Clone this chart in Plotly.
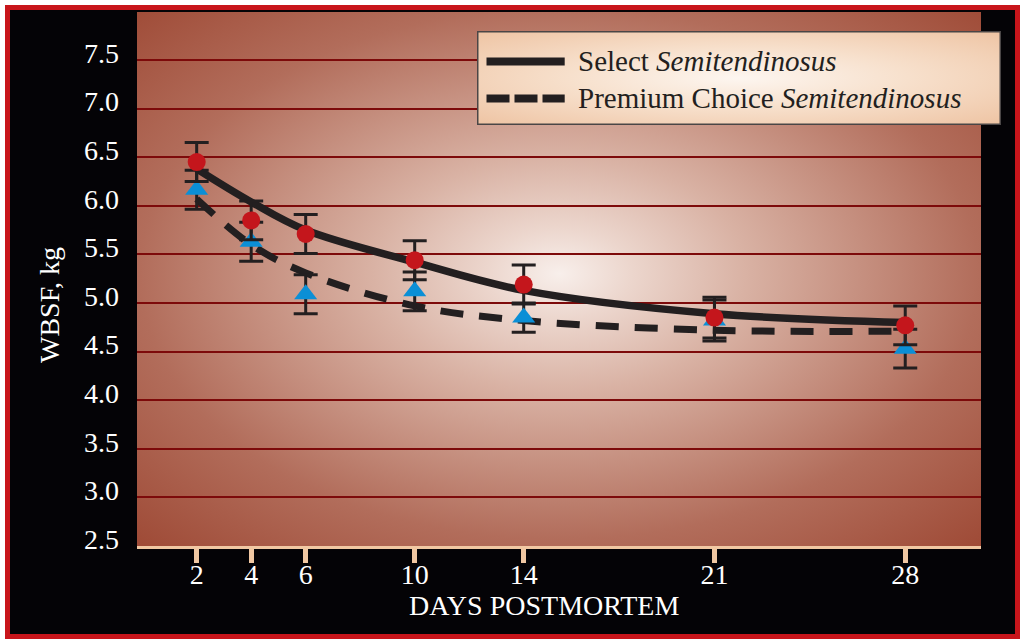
import base64
import plotly.graph_objects as go

# ---------------- data ----------------
days = [2, 4, 6, 10, 14, 21, 28]
tick_labels = ["2", "4", "6", "10", "14", "21", "28"]

select_means = [6.45, 5.85, 5.71, 5.44, 5.19, 4.85, 4.77]
select_err = [0.20, 0.20, 0.20, 0.20, 0.20, 0.21, 0.20]
select_fit = [6.38, 6.04, 5.75, 5.42, 5.13, 4.89, 4.80]

premium_means = [6.165, 5.63, 5.09, 5.12, 4.85, 4.82, 4.53]
premium_err = [0.20, 0.20, 0.20, 0.20, 0.15, 0.21, 0.20]
premium_fit = [6.07, 5.60, 5.31, 4.97, 4.82, 4.72, 4.71]

y_ticks = [2.5, 3.0, 3.5, 4.0, 4.5, 5.0, 5.5, 6.0, 6.5, 7.0, 7.5]
series_names = ["Select <i>Semitendinosus</i>", "Premium Choice <i>Semitendinosus</i>"]

# ---------------- layout geometry ----------------
W, H = 1021, 641
L, R, T, B = 137, 40, 12, 95
PW, PH = W - L - R, H - T - B
FONT = "Liberation Serif"
INK = "#231f20"

def px_x(p):
    return (p - L) / PW

def px_y(p):
    return (H - B - p) / PH

# background (frame + gradient plot area) as svg
bg_svg = f"""<svg xmlns='http://www.w3.org/2000/svg' width='{W}' height='{H}' viewBox='0 0 {W} {H}'>
<defs>
<radialGradient id='g' cx='0.5' cy='0.49' r='0.71'>
<stop offset='0' stop-color='#f8efeb'/>
<stop offset='0.12' stop-color='#ecd6cd'/>
<stop offset='0.31' stop-color='#d9b2a4'/>
<stop offset='0.7' stop-color='#b26d5b'/>
<stop offset='1' stop-color='#9f4b37'/>
</radialGradient>
</defs>
<rect x='0' y='0' width='{W}' height='{H}' fill='#ffffff'/>
<rect x='7.5' y='7.5' width='1010' height='629' fill='#040306' stroke='#c8151b' stroke-width='5'/>
<rect x='{L}' y='{T}' width='{PW}' height='{PH}' fill='url(#g)'/>
</svg>"""

lg_x0, lg_x1, lg_y0, lg_y1 = 477, 1001, 31, 125
lg_svg = f"""<svg xmlns='http://www.w3.org/2000/svg' width='{lg_x1-lg_x0}' height='{lg_y1-lg_y0}' viewBox='0 0 {lg_x1-lg_x0} {lg_y1-lg_y0}'>
<defs>
<radialGradient id='l' cx='0.5' cy='0.5' r='0.72'>
<stop offset='0' stop-color='#fdf6f0'/>
<stop offset='0.45' stop-color='#f7e0cc'/>
<stop offset='1' stop-color='#eec3a2'/>
</radialGradient>
</defs>
<rect x='0.75' y='0.75' width='{lg_x1-lg_x0-1.5}' height='{lg_y1-lg_y0-1.5}' fill='url(#l)' stroke='#4a4646' stroke-width='1.5'/>
</svg>"""

def data_uri(svg):
    return "data:image/svg+xml;base64," + base64.b64encode(svg.encode()).decode()

fig = go.Figure()

# fitted curves
fig.add_trace(go.Scatter(x=days, y=select_fit, mode="lines",
                         line=dict(color=INK, width=7.5, shape="spline", smoothing=1.0),
                         showlegend=False, hoverinfo="skip"))
fig.add_trace(go.Scatter(x=days, y=premium_fit, mode="lines",
                         line=dict(color=INK, width=7, dash="23px,16px", shape="spline", smoothing=1.0),
                         showlegend=False, hoverinfo="skip"))

# means with error bars
fig.add_trace(go.Scatter(x=days, y=premium_means, mode="markers",
                         marker=dict(symbol="triangle-up", size=20, color="#0b8fd6"),
                         error_y=dict(type="data", array=premium_err, color=INK, thickness=3, width=12),
                         showlegend=False))
fig.add_trace(go.Scatter(x=days, y=select_means, mode="markers",
                         marker=dict(symbol="circle", size=18, color="#c4161c"),
                         error_y=dict(type="data", array=select_err, color=INK, thickness=3, width=12),
                         showlegend=False))

images = [
    dict(source=data_uri(bg_svg), xref="paper", yref="paper",
         x=-L / PW, y=1 + T / PH, sizex=W / PW, sizey=H / PH,
         sizing="stretch", xanchor="left", yanchor="top", layer="below"),
    dict(source=data_uri(lg_svg), xref="paper", yref="paper",
         x=px_x(lg_x0), y=px_y(lg_y0), sizex=(lg_x1 - lg_x0) / PW, sizey=(lg_y1 - lg_y0) / PH,
         sizing="stretch", xanchor="left", yanchor="top", layer="above"),
]

shapes = [
    dict(type="line", xref="paper", yref="paper", x0=px_x(486.5), x1=px_x(564.7),
         y0=px_y(61.5), y1=px_y(61.5), line=dict(color=INK, width=8), layer="above"),
    dict(type="line", xref="paper", yref="paper", x0=px_x(486.5), x1=px_x(564.7),
         y0=px_y(98.5), y1=px_y(98.5), line=dict(color=INK, width=8, dash="23px,5px"), layer="above"),
]

annotations = [
    dict(text=series_names[0], xref="paper", yref="paper", x=px_x(576), y=px_y(61),
         xanchor="left", yanchor="middle", showarrow=False,
         font=dict(family=FONT, size=29, color=INK)),
    dict(text=series_names[1], xref="paper", yref="paper", x=px_x(576), y=px_y(98),
         xanchor="left", yanchor="middle", showarrow=False,
         font=dict(family=FONT, size=29, color=INK)),
    dict(text="WBSF, kg", xref="paper", yref="paper", x=px_x(49), y=px_y(305),
         xanchor="center", yanchor="middle", textangle=-90, showarrow=False,
         font=dict(family=FONT, size=28, color="white")),
    dict(text="DAYS POSTMORTEM", xref="paper", yref="paper", x=px_x(544), y=px_y(605),
         xanchor="center", yanchor="middle", showarrow=False,
         font=dict(family=FONT, size=28, color="white")),
]

fig.update_layout(
    width=W, height=H,
    margin=dict(l=L, r=R, t=T, b=B, pad=0),
    paper_bgcolor="white",
    plot_bgcolor="rgba(0,0,0,0)",
    images=images, shapes=shapes, annotations=annotations,
    showlegend=False,
    xaxis=dict(range=[-0.19, 30.78], tickvals=days, ticktext=tick_labels,
               ticks="outside", ticklen=14, tickwidth=5, tickcolor="#f1c8a3",
               showline=True, linecolor="#f1c8a3", linewidth=3,
               showgrid=False, zeroline=False, ticklabelstandoff=-13,
               tickfont=dict(family=FONT, size=28, color="white")),
    yaxis=dict(range=[2.5, 2.5 + PH / 97.2], tickvals=y_ticks,
               ticktext=[f"{v:.1f}" for v in y_ticks],
               ticks="", showline=False, zeroline=False,
               showgrid=True, gridcolor="#7d0a0a", gridwidth=2,
               ticklabelshift=-7, ticklabelstandoff=17,
               tickfont=dict(family=FONT, size=28, color="white")),
)

fig.write_html("out.html", config={"displayModeBar": False},
               post_script="document.body.style.margin='0';document.body.style.overflow='hidden';")
